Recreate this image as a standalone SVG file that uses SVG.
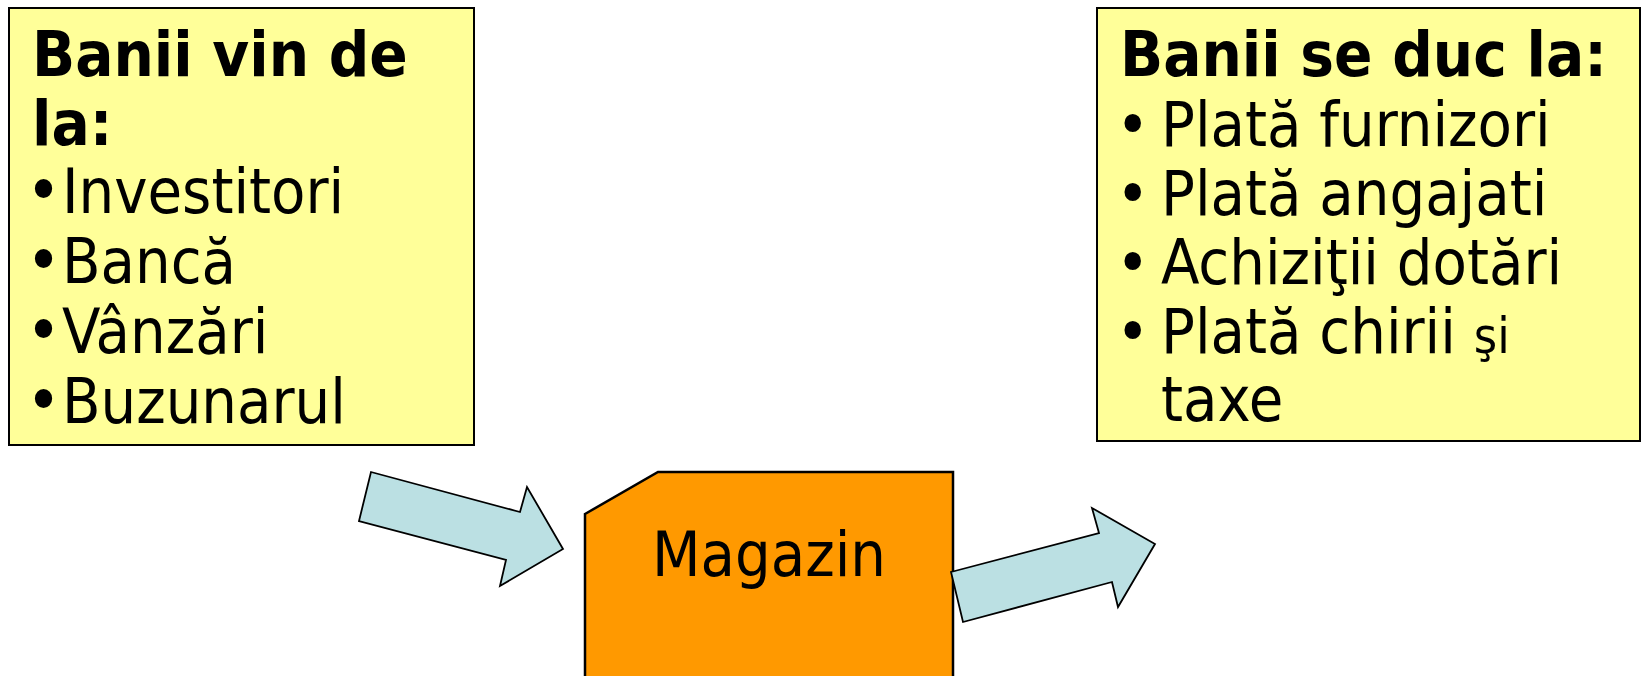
<svg xmlns="http://www.w3.org/2000/svg" width="1645" height="676" viewBox="0 0 1645 676">
<style>
.box{fill:#FFFF99;stroke:#000;stroke-width:2}
.shop{fill:#FF9900;stroke:#000;stroke-width:2.5}
.arrow{fill:#BBE0E3;stroke:#000;stroke-width:1.8;stroke-linejoin:miter}
text{font-family:"DejaVu Sans Condensed","DejaVu Sans",sans-serif;font-size:62.5px;fill:#000}
.b{font-weight:bold;font-size:63px}
.bul{font-size:66px}
.bul2{font-size:63px}
.small{font-size:50px}
</style>
<rect width="1645" height="676" fill="#fff"/>
<g id="sources">
<rect class="box" x="9" y="8" width="465" height="437"/>
<text class="b" x="32" y="76">Banii vin de</text>
<text class="b" x="32" y="145">la:</text>
<text><tspan class="bul" x="26" y="213">•</tspan><tspan x="62" y="213">Investitori</tspan></text>
<text><tspan class="bul" x="26" y="283">•</tspan><tspan x="62" y="283">Bancă</tspan></text>
<text><tspan class="bul" x="26" y="353">•</tspan><tspan x="62" y="353">Vânzări</tspan></text>
<text><tspan class="bul" x="26" y="423">•</tspan><tspan x="62" y="423">Buzunarul</tspan></text>
</g>
<g id="uses">
<rect class="box" x="1097" y="8" width="543" height="433"/>
<text class="b" x="1120" y="76">Banii se duc la:</text>
<text x="1116" y="146"><tspan class="bul2">•</tspan><tspan x="1161">Plată furnizori</tspan></text>
<text x="1116" y="215"><tspan class="bul2">•</tspan><tspan x="1161">Plată angajati</tspan></text>
<text x="1116" y="284"><tspan class="bul2">•</tspan><tspan x="1161">Achiziţii dotări</tspan></text>
<text x="1116" y="353"><tspan class="bul2">•</tspan><tspan x="1161">Plată chirii </tspan><tspan class="small">şi</tspan></text>
<text x="1161" y="421">taxe</text>
</g>
<g id="magazin">
<path class="shop" d="M585,514 L658,472 L953,472 L953,690 L585,690 Z"/>
<text x="769" y="576" text-anchor="middle">Magazin</text>
</g>
<g id="connectors">
<path class="arrow" d="M371,472 L520,512 L527,487 L563,549 L500,586 L506,560 L359,521 Z"/>
<path class="arrow" d="M951,572 L1099,533 L1092,508 L1155,544 L1118,607 L1112,582 L963,622 Z"/>
</g>
</svg>
